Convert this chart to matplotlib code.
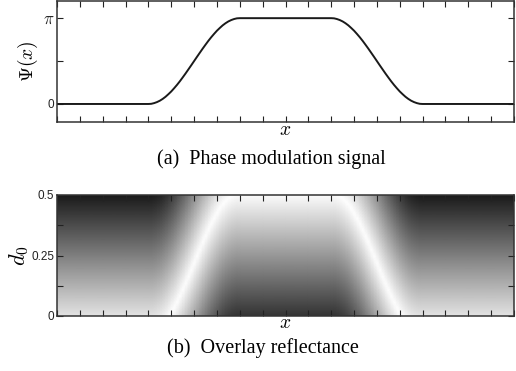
import numpy as np
import matplotlib
matplotlib.use("Agg")
import matplotlib.pyplot as plt

plt.rcParams['mathtext.fontset'] = 'cm'
plt.rcParams['font.family'] = ['Liberation Sans', 'DejaVu Sans']

# Psi(x) (units of pi). x runs 0..20 (one unit per tick).
# flat at 0 on 0..4, rises on 4..8, flat at pi on 8..12, falls on 12..16, flat at 0 on 16..20
flat_lo_x = [0, 1, 2, 3]
rise_x = [4 + 0.125 * i for i in range(33)]
flat_hi_x = [9, 10, 11]
fall_x = [12 + 0.125 * i for i in range(33)]
flat_lo2_x = [17, 18, 19, 20]

rise_psi = [0, 0.002, 0.010, 0.022, 0.038, 0.059, 0.084, 0.114,
            0.146, 0.183, 0.222, 0.264, 0.309, 0.355, 0.403, 0.451,
            0.500, 0.549, 0.597, 0.645, 0.691, 0.736, 0.778, 0.817,
            0.854, 0.886, 0.916, 0.941, 0.962, 0.978, 0.990, 0.998, 1.0]
fall_psi = rise_psi[::-1]

x_pts = flat_lo_x + rise_x + flat_hi_x + fall_x + flat_lo2_x
psi_pi = [0] * 4 + rise_psi + [1] * 3 + fall_psi + [0] * 4

# overlay thickness axis
d0_max = 0.5
d0_ticks = [0, 0.125, 0.25, 0.375, 0.5]
d0_labels = ['0', '', '0.25', '', '0.5']

# overlay phase: the white line sits where Psi matches it
phase_slope = 0.86
phase_offset = 0.12

W, H = 516, 371
fig = plt.figure(figsize=(W / 100, H / 100), dpi=100)

x = np.array(x_pts)
psi = np.array(psi_pi) * np.pi


def style(ax):
    ax.set_xlim(0, 20)
    ax.set_xticks(np.arange(0, 21, 1))
    ax.tick_params(direction='in', top=True, right=True, length=4, width=0.8,
                   labelsize=8.5, pad=2, colors='#222222', labelbottom=False)
    for s in ax.spines.values():
        s.set_linewidth(1.1)
        s.set_color('#333333')


# (a) phase modulation
ax1 = fig.add_axes([57 / W, 1 - 122 / H, 457 / W, 121 / H])
ax1.plot(x, psi, color='#1a1a1a', lw=1.4)
ax1.set_ylim(-0.21 * np.pi, 1.2 * np.pi)
ax1.set_yticks([0, np.pi / 2, np.pi])
ax1.set_yticklabels(['0', '', r'$\pi$'])
style(ax1)
ax1.get_yticklabels()[2].set_fontsize(12)
ax1.set_ylabel(r'$\Psi(x)$', fontsize=14, labelpad=2)
ax1.set_xlabel(r'$x$', fontsize=14, labelpad=0)

# (b) overlay reflectance
ax2 = fig.add_axes([57 / W, 1 - 316 / H, 457 / W, 121 / H])
d0 = np.linspace(0, d0_max, 201)
X, D = np.meshgrid(x, d0)
P = np.meshgrid(psi, d0)[0]
theta = phase_slope * 2 * np.pi * D + phase_offset * np.pi - P
# distance of the wrapped phase from zero -> sharp white line, linear shading around it
R = np.abs(np.angle(np.exp(1j * theta))) / np.pi
ax2.pcolormesh(X, D, R, cmap='gray_r', vmin=0, vmax=1.1, shading='gouraud', rasterized=True)
ax2.set_ylim(0, d0_max)
ax2.set_yticks(d0_ticks)
ax2.set_yticklabels(d0_labels)
style(ax2)
ax2.set_ylabel(r'$d_0$', fontsize=16, labelpad=0)
ax2.set_xlabel(r'$x$', fontsize=14, labelpad=-1)

cap = dict(family=['Liberation Serif', 'DejaVu Serif'], fontsize=14.5, ha='center', va='baseline')
fig.text(271 / W, 1 - 164 / H, '(a)  Phase modulation signal', **cap)
fig.text(263 / W, 1 - 353 / H, '(b)  Overlay reflectance', **cap)

fig.savefig('out.png', dpi=100)
